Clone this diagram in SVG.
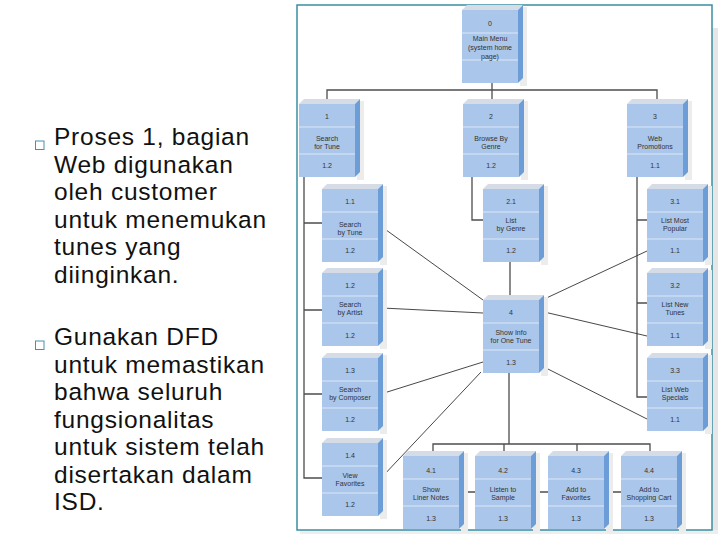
<svg xmlns="http://www.w3.org/2000/svg" xmlns:xlink="http://www.w3.org/1999/xlink" width="720" height="540" viewBox="0 0 720 540">
<style>
.bt{font-family:"Liberation Sans",Arial,sans-serif;font-size:24.5px;letter-spacing:0.75px;fill:#111}
.lb{font-family:"Liberation Sans",Arial,sans-serif;font-size:7px;fill:#333;text-anchor:middle}
.tree{stroke:#4d4d4d;stroke-width:1.3;fill:none}
.diag{stroke:#333;stroke-width:0.9;fill:none}
</style>
<defs>
<g id="box">
<rect x="58" y="-3" width="7" height="79" fill="#ececec"/>
<polygon points="0,0 5,-5 61,-5 56,0" fill="#d6dce5"/>
<polygon points="56,0 61,-5 61,68 56,73" fill="#6c9dd6"/>
<rect x="0" y="0" width="56" height="73" fill="#aac6ea"/>
<line x1="0" y1="23" x2="56" y2="23" stroke="#dce8f6" stroke-width="1"/>
<line x1="0" y1="50" x2="56" y2="50" stroke="#dce8f6" stroke-width="1"/>
</g>
</defs>
<rect x="0" y="0" width="720" height="540" fill="#fff"/>
<rect x="712" y="28" width="6" height="506" fill="#e6e6e6"/>
<rect x="300" y="530" width="418" height="4" fill="#eeeeee"/>
<rect x="297" y="5" width="415" height="525" fill="#fff" stroke="#3a8fa3" stroke-width="1.5"/>

<g id="text-left">
<rect x="35.5" y="141" width="8.5" height="8.5" fill="none" stroke="#4a8fb0" stroke-width="1"/>
<text class="bt" x="54" y="145"><tspan x="54" y="145">Proses 1, bagian</tspan><tspan x="54" y="172.6">Web digunakan</tspan><tspan x="54" y="200.2">oleh customer</tspan><tspan x="54" y="227.8">untuk menemukan</tspan><tspan x="54" y="255.4">tunes yang</tspan><tspan x="54" y="283">diinginkan.</tspan></text>
<rect x="35.5" y="341" width="8.5" height="8.5" fill="none" stroke="#4a8fb0" stroke-width="1"/>
<text class="bt" x="54" y="345"><tspan x="54" y="345">Gunakan DFD</tspan><tspan x="54" y="372.5">untuk memastikan</tspan><tspan x="54" y="400">bahwa seluruh</tspan><tspan x="54" y="427.5">fungsionalitas</tspan><tspan x="54" y="455">untuk sistem telah</tspan><tspan x="54" y="482.5">disertakan dalam</tspan><tspan x="54" y="510">ISD.</tspan></text>
</g>

<g id="connectors">
<path class="tree" d="M492,83 V90 M327,99 V90 H657 V99 M492,90 V99"/>
<path class="tree" d="M304,177 V478 H322 M304,223 H322 M304,310 H322 M304,394 H322"/>
<path class="tree" d="M472,177 V220 H483 M510,262 V295"/>
<path class="tree" d="M637,177 V397 H647 M637,220 H647 M637,303 H647"/>
<path class="tree" d="M509,373 V444 M433,451 V444 H650 V451 M504,444 V451 M577,444 V451"/>
<path class="tree" d="M459,492 H475 M531,492 H548 M604,492 H621"/>
<path class="diag" d="M382,227 L483,300"/>
<path class="diag" d="M647,251 L540,301"/>
<path class="diag" d="M382,308 L483,313"/>
<path class="diag" d="M540,311 L647,336"/>
<path class="diag" d="M483,362 L384,393"/>
<path class="diag" d="M481,372 L382,477"/>
<path class="diag" d="M540,365 L647,419"/>
</g>

<g id="n0"><use xlink:href="#box" x="462" y="10"/>
<text class="lb" x="490" y="26">0</text>
<text class="lb" x="490" y="41">Main Menu</text>
<text class="lb" x="490" y="50">(system home</text>
<text class="lb" x="490" y="59">page)</text></g>

<g id="n1"><use xlink:href="#box" x="299" y="104"/>
<text class="lb" x="327" y="119">1</text>
<text class="lb" x="327" y="141">Search</text>
<text class="lb" x="327" y="149">for Tune</text>
<text class="lb" x="327" y="168">1.2</text></g>

<g id="n2"><use xlink:href="#box" x="463" y="104"/>
<text class="lb" x="491" y="119">2</text>
<text class="lb" x="491" y="141">Browse By</text>
<text class="lb" x="491" y="149">Genre</text>
<text class="lb" x="491" y="168">1.2</text></g>

<g id="n3"><use xlink:href="#box" x="627" y="104"/>
<text class="lb" x="655" y="119">3</text>
<text class="lb" x="655" y="141">Web</text>
<text class="lb" x="655" y="149">Promotions</text>
<text class="lb" x="655" y="168">1.1</text></g>

<g id="n11"><use xlink:href="#box" x="322" y="189"/>
<text class="lb" x="350" y="204">1.1</text>
<text class="lb" x="350" y="227">Search</text>
<text class="lb" x="350" y="235">by Tune</text>
<text class="lb" x="350" y="253">1.2</text></g>

<g id="n21"><use xlink:href="#box" x="483" y="189"/>
<text class="lb" x="511" y="204">2.1</text>
<text class="lb" x="511" y="223">List</text>
<text class="lb" x="511" y="231">by Genre</text>
<text class="lb" x="511" y="253">1.2</text></g>

<g id="n31"><use xlink:href="#box" x="647" y="189"/>
<text class="lb" x="675" y="204">3.1</text>
<text class="lb" x="675" y="223">List Most</text>
<text class="lb" x="675" y="231">Popular</text>
<text class="lb" x="675" y="253">1.1</text></g>

<g id="n12"><use xlink:href="#box" x="322" y="273"/>
<text class="lb" x="350" y="288">1.2</text>
<text class="lb" x="350" y="307">Search</text>
<text class="lb" x="350" y="315">by Artist</text>
<text class="lb" x="350" y="338">1.2</text></g>

<g id="n4"><use xlink:href="#box" x="483" y="300"/>
<text class="lb" x="511" y="315">4</text>
<text class="lb" x="511" y="335">Show Info</text>
<text class="lb" x="511" y="343">for One Tune</text>
<text class="lb" x="511" y="365">1.3</text></g>

<g id="n32"><use xlink:href="#box" x="647" y="273"/>
<text class="lb" x="675" y="288">3.2</text>
<text class="lb" x="675" y="307">List New</text>
<text class="lb" x="675" y="315">Tunes</text>
<text class="lb" x="675" y="338">1.1</text></g>

<g id="n13"><use xlink:href="#box" x="322" y="358"/>
<text class="lb" x="350" y="373">1.3</text>
<text class="lb" x="350" y="392">Search</text>
<text class="lb" x="350" y="400">by Composer</text>
<text class="lb" x="350" y="422">1.2</text></g>

<g id="n33"><use xlink:href="#box" x="647" y="358"/>
<text class="lb" x="675" y="373">3.3</text>
<text class="lb" x="675" y="392">List Web</text>
<text class="lb" x="675" y="400">Specials</text>
<text class="lb" x="675" y="422">1.1</text></g>

<g id="n14"><use xlink:href="#box" x="322" y="443"/>
<text class="lb" x="350" y="458">1.4</text>
<text class="lb" x="350" y="478">View</text>
<text class="lb" x="350" y="486">Favorites</text>
<text class="lb" x="350" y="507">1.2</text></g>

<g id="n41"><use xlink:href="#box" x="403" y="456"/>
<text class="lb" x="431" y="473">4.1</text>
<text class="lb" x="431" y="492">Show</text>
<text class="lb" x="431" y="500">Liner Notes</text>
<text class="lb" x="431" y="521">1.3</text></g>

<g id="n42"><use xlink:href="#box" x="475" y="456"/>
<text class="lb" x="503" y="473">4.2</text>
<text class="lb" x="503" y="492">Listen to</text>
<text class="lb" x="503" y="500">Sample</text>
<text class="lb" x="503" y="521">1.3</text></g>

<g id="n43"><use xlink:href="#box" x="548" y="456"/>
<text class="lb" x="576" y="473">4.3</text>
<text class="lb" x="576" y="492">Add to</text>
<text class="lb" x="576" y="500">Favorites</text>
<text class="lb" x="576" y="521">1.3</text></g>

<g id="n44"><use xlink:href="#box" x="621" y="456"/>
<text class="lb" x="649" y="473">4.4</text>
<text class="lb" x="649" y="492">Add to</text>
<text class="lb" x="649" y="500">Shopping Cart</text>
<text class="lb" x="649" y="521">1.3</text></g>
</svg>
